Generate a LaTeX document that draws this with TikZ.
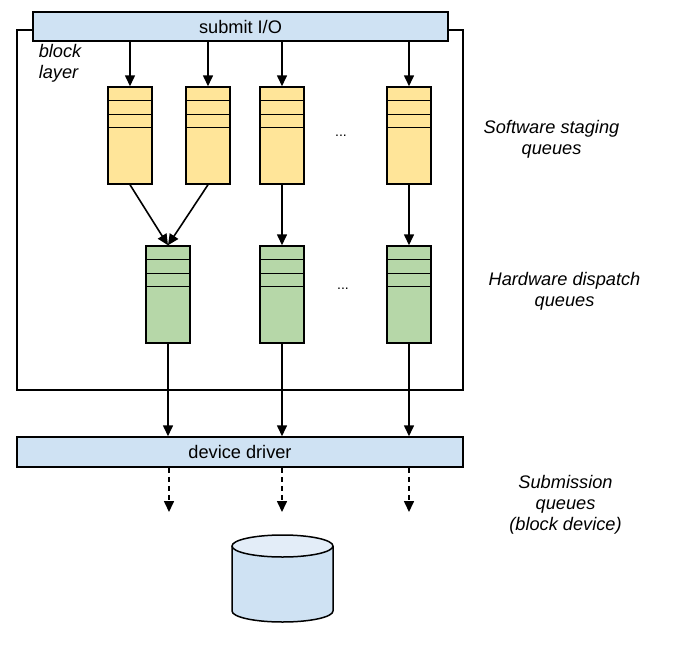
\documentclass[tikz,border=0pt]{standalone}
\usepackage{fontspec}
\setmainfont{Liberation Sans}
\usetikzlibrary{arrows.meta}
\definecolor{swyellow}{HTML}{FFE599}
\definecolor{hwgreen}{HTML}{B6D7A8}
\definecolor{barblue}{HTML}{CFE2F3}
\definecolor{disktop}{HTML}{E3EDF8}
\begin{document}
\begin{tikzpicture}[x=1pt,y=-1pt,line width=1.5pt,
	bar/.style={draw,fill=barblue,inner sep=0pt,font=\fontsize{18.2}{21}\selectfont},
	queue/.style={draw,minimum width=44pt,minimum height=97pt,inner sep=0pt},
	note/.style={align=center,inner sep=0pt,font=\fontsize{18.2}{21}\selectfont\itshape},
	dots/.style={inner sep=0pt,font=\fontsize{14}{14}\selectfont},
	flow/.style={-{Triangle[length=11pt,width=10pt]},line width=1.6pt}]
	\useasboundingbox (0,0) rectangle (679,669);
	% block layer
	\draw (17,30) rectangle (463,390);
	\node[note,align=left,anchor=north west] (blk) at (38,44) {block\\layer};
	\node[bar,minimum width=415pt,minimum height=29pt] (submit) at (240.5,26.5) {submit I/O};
	\node[bar,minimum width=446pt,minimum height=30pt] (driver) at (240,452) {device driver};
	% software staging queues
	\foreach \n/\x in {1/130,2/208,3/282,4/409} {
		\node[queue,fill=swyellow] (sw\n) at (\x,135.5) {};
		\foreach \d in {14,28,41}
			\draw ([yshift=-\d pt]sw\n.north west) -- ([yshift=-\d pt]sw\n.north east);
		\draw[flow] (submit.south -| sw\n) -- (sw\n);
	}
	\node[dots] (swdots) at (341,136) {...};
	% hardware dispatch queues
	\foreach \n/\x in {1/168,2/282,3/409} {
		\node[queue,fill=hwgreen] (hw\n) at (\x,294.5) {};
		\foreach \d in {14,28,41}
			\draw ([yshift=-\d pt]hw\n.north west) -- ([yshift=-\d pt]hw\n.north east);
		\draw[flow] (hw\n) -- (driver.north -| hw\n);
	}
	\node[dots] (hwdots) at (343,289) {...};
	\draw[flow] (sw1.south) -- (hw1.north);
	\draw[flow] (sw2.south) -- (hw1.north);
	\draw[flow] (sw3) -- (hw2);
	\draw[flow] (sw4) -- (hw3);
	% submission queues
	\foreach \n/\x in {1/169,2/282,3/409} {
		\coordinate (sub\n) at (\x,512);
		\draw[flow,dash pattern=on 5pt off 4pt] (driver.south -| sub\n) -- (sub\n);
	}
	% block device
	\draw[fill=barblue] (232,546) -- (232,611) arc[start angle=180,end angle=0,x radius=50.5,y radius=11] -- (333,546);
	\draw[fill=disktop] (282.5,546) ellipse[x radius=50.5,y radius=11];
	% side labels
	\node[note] (swlbl) at (551.5,139) {Software staging\\queues};
	\node[note] (hwlbl) at (564.5,291) {Hardware dispatch\\queues};
	\node[note] (sublbl) at (565.5,504.5) {Submission\\queues\\(block device)};
\end{tikzpicture}
\end{document}
